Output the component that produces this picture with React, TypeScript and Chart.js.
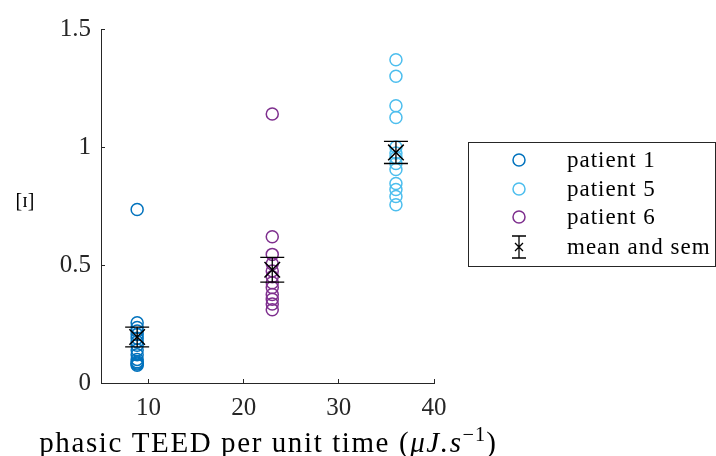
import React, { useEffect, useRef } from 'react';
import { Chart, registerables } from 'chart.js';

Chart.register(...registerables);

// Per-patient measurements: x = phasic TEED per unit time, y = index value
const patient1X = 8.8;
const patient1Values = [0.735, 0.255, 0.235, 0.22, 0.205, 0.19, 0.175, 0.16, 0.14, 0.12, 0.1, 0.09, 0.085, 0.08, 0.075];
const patient5X = 36;
const patient5Values = [1.37, 1.3, 1.175, 1.125, 1.0, 0.975, 0.955, 0.93, 0.905, 0.845, 0.82, 0.79, 0.755];
const patient6X = 23;
const patient6Values = [1.14, 0.62, 0.545, 0.505, 0.475, 0.45, 0.425, 0.405, 0.375, 0.355, 0.335, 0.31];

// Group means and standard errors
const meanX = [8.8, 23, 36];
const meanValues = [0.195, 0.48, 0.977];
const semValues = [0.042, 0.0525, 0.047];

const xTickValues = [10, 20, 30, 40];
const yTickValues = [0, 0.5, 1, 1.5];
const seriesLabels = ['patient 1', 'patient 5', 'patient 6', 'mean and sem'];
const seriesColors = ['#0072BD', '#4DBEEE', '#7E2F8E', '#000000'];

const FONT = '"Liberation Serif", "DejaVu Serif", serif';
const AXIS_COLOR = '#262626';

const toPoints = (x: number, ys: number[]) => ys.map((y) => ({ x, y }));

const errorBarPlugin = {
  id: 'errorBars',
  afterDatasetsDraw(chart: any) {
    const { ctx, scales } = chart;
    const xs = scales.x;
    const ys = scales.y;
    ctx.save();
    ctx.strokeStyle = '#000000';
    ctx.lineWidth = 1.3;
    meanValues.forEach((m, i) => {
      const px = xs.getPixelForValue(meanX[i]);
      const top = ys.getPixelForValue(m + semValues[i]);
      const bot = ys.getPixelForValue(m - semValues[i]);
      ctx.beginPath();
      ctx.moveTo(px, top);
      ctx.lineTo(px, bot);
      ctx.moveTo(px - 12, top);
      ctx.lineTo(px + 12, top);
      ctx.moveTo(px - 12, bot);
      ctx.lineTo(px + 12, bot);
      ctx.stroke();
    });
    ctx.restore();
  },
};

const labelsPlugin = {
  id: 'axisLabels',
  afterDraw(chart: any) {
    const { ctx, chartArea } = chart;
    ctx.save();
    ctx.fillStyle = '#000000';

    // y label, horizontal
    ctx.font = `20px ${FONT}`;
    ctx.textAlign = 'center';
    ctx.textBaseline = 'middle';
    ctx.fillText('[ɪ]', 25, (chartArea.top + chartArea.bottom) / 2 - 4);

    // x label with math part in italics
    const size = 29;
    const spacing = 1.6;
    const parts = [
      { text: 'phasic TEED per unit time (', font: `${size}px ${FONT}`, dy: 0, ls: spacing },
      { text: 'μJ.s', font: `italic ${size}px ${FONT}`, dy: 0, ls: spacing },
      { text: '−1', font: `${size * 0.7}px ${FONT}`, dy: -11, ls: 1 },
      { text: ')', font: `${size}px ${FONT}`, dy: 0, ls: 0 },
    ];
    let total = 0;
    const widths = parts.map((p) => {
      ctx.font = p.font;
      ctx.letterSpacing = `${p.ls}px`;
      const w = ctx.measureText(p.text).width;
      total += w;
      return w;
    });
    let x = (chartArea.left + chartArea.right) / 2 - total / 2;
    const baseline = 452;
    ctx.textAlign = 'left';
    ctx.textBaseline = 'alphabetic';
    parts.forEach((p, i) => {
      ctx.font = p.font;
      ctx.letterSpacing = `${p.ls}px`;
      ctx.fillText(p.text, x, baseline + p.dy);
      x += widths[i];
    });
    ctx.restore();
  },
};

const legendPlugin = {
  id: 'boxLegend',
  afterDraw(chart: any) {
    const { ctx } = chart;
    const left = 468.5;
    const top = 142.5;
    const width = 247;
    const height = 124;
    ctx.save();
    ctx.fillStyle = '#ffffff';
    ctx.fillRect(left, top, width, height);
    ctx.strokeStyle = AXIS_COLOR;
    ctx.lineWidth = 1;
    ctx.strokeRect(left, top, width, height);

    const rows = [160, 189, 217, 247];
    const markerX = 519;
    const textX = 567;
    ctx.font = `23px ${FONT}`;
    ctx.letterSpacing = '1px';
    ctx.textAlign = 'left';
    ctx.textBaseline = 'middle';
    seriesLabels.forEach((label, i) => {
      const y = rows[i];
      if (i < 3) {
        ctx.strokeStyle = seriesColors[i];
        ctx.lineWidth = 1.5;
        ctx.beginPath();
        ctx.arc(markerX, y, 6, 0, Math.PI * 2);
        ctx.stroke();
      } else {
        ctx.strokeStyle = '#000000';
        ctx.lineWidth = 1.3;
        ctx.beginPath();
        ctx.moveTo(markerX, y - 11);
        ctx.lineTo(markerX, y + 11);
        ctx.moveTo(markerX - 7, y - 11);
        ctx.lineTo(markerX + 7, y - 11);
        ctx.moveTo(markerX - 7, y + 11);
        ctx.lineTo(markerX + 7, y + 11);
        ctx.moveTo(markerX - 4, y - 4);
        ctx.lineTo(markerX + 4, y + 4);
        ctx.moveTo(markerX - 4, y + 4);
        ctx.lineTo(markerX + 4, y - 4);
        ctx.stroke();
      }
      ctx.fillStyle = '#000000';
      ctx.fillText(label, textX, y + 1);
    });
    ctx.restore();
  },
};

export default function App() {
  const canvasRef = useRef<HTMLCanvasElement | null>(null);

  useEffect(() => {
    if (!canvasRef.current) return;
    const scatterStyle = (i: number) => ({
      borderColor: seriesColors[i],
      backgroundColor: 'rgba(0,0,0,0)',
      pointStyle: 'circle',
      pointRadius: 6,
      pointBorderWidth: 1.5,
      showLine: false,
    });
    const chart = new Chart(canvasRef.current, {
      type: 'scatter',
      data: {
        datasets: [
          { label: seriesLabels[3], data: meanX.map((x, i) => ({ x, y: meanValues[i] })), borderColor: '#000000', backgroundColor: '#000000', pointStyle: 'crossRot', pointRadius: 11, pointBorderWidth: 1.5, order: 0 },
          { label: seriesLabels[0], data: toPoints(patient1X, patient1Values), ...scatterStyle(0), order: 3 },
          { label: seriesLabels[1], data: toPoints(patient5X, patient5Values), ...scatterStyle(1), order: 2 },
          { label: seriesLabels[2], data: toPoints(patient6X, patient6Values), ...scatterStyle(2), order: 1 },
        ],
      },
      options: {
        animation: false,
        responsive: false,
        devicePixelRatio: 1,
        layout: { padding: { left: 0, top: 26, right: 282, bottom: 0 } },
        plugins: { legend: { display: false }, tooltip: { enabled: false } },
        scales: {
          x: {
            type: 'linear',
            min: 5,
            max: 40,
            afterBuildTicks: (s: any) => {
              s.ticks = xTickValues.map((v) => ({ value: v }));
            },
            afterFit: (s: any) => {
              s.height = 73;
            },
            grid: { drawOnChartArea: false, tickLength: -4, color: AXIS_COLOR, lineWidth: 1 },
            border: { color: AXIS_COLOR, width: 1 },
            ticks: { font: { family: FONT, size: 25 }, color: AXIS_COLOR, padding: 14, maxRotation: 0, callback: (v: any) => String(v) },
          },
          y: {
            type: 'linear',
            min: 0,
            max: 1.5,
            afterBuildTicks: (s: any) => {
              s.ticks = yTickValues.map((v) => ({ value: v }));
            },
            afterFit: (s: any) => {
              s.width = 101;
            },
            grid: { drawOnChartArea: false, tickLength: -4, color: AXIS_COLOR, lineWidth: 1 },
            border: { color: AXIS_COLOR, width: 1 },
            ticks: { font: { family: FONT, size: 25 }, color: AXIS_COLOR, padding: 14, callback: (v: any) => String(v) },
          },
        },
      },
      plugins: [errorBarPlugin, labelsPlugin, legendPlugin],
    } as any);
    return () => chart.destroy();
  }, []);

  return (
    <div style={{ position: 'fixed', left: 0, top: 0, width: 716, height: 456, background: '#ffffff' }}>
      <canvas ref={canvasRef} width={716} height={456} style={{ width: 716, height: 456, display: 'block' }} />
    </div>
  );
}
